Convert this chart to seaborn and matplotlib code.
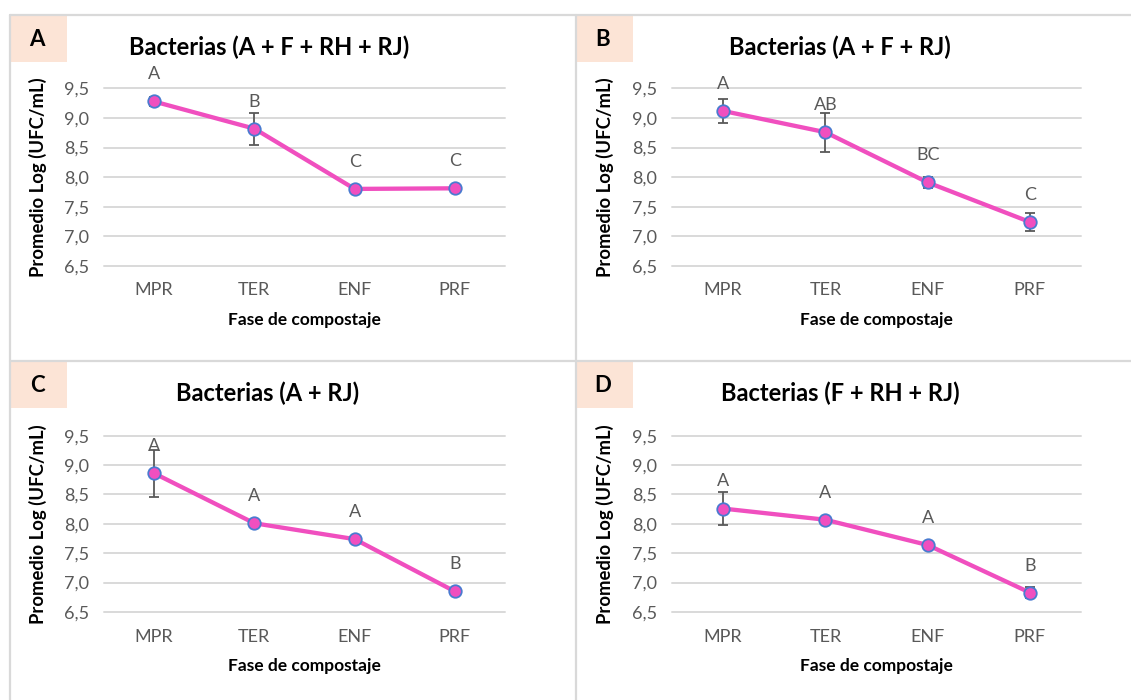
import numpy as np
import pandas as pd
import matplotlib.pyplot as plt
import seaborn as sns
from matplotlib.lines import Line2D
from matplotlib.patches import Rectangle

# ── Data ──────────────────────────────────────────────────
fases = ["MPR", "TER", "ENF", "PRF"]

paneles = ["A", "B", "C", "D"]
titulos = [
    "Bacterias (A + F + RH + RJ)",
    "Bacterias (A + F + RJ)",
    "Bacterias (A + RJ)",
    "Bacterias (F + RH + RJ)",
]

medias_A = [9.28, 8.82, 7.80, 7.81]
medias_B = [9.12, 8.76, 7.91, 7.24]
medias_C = [8.86, 8.01, 7.74, 6.85]
medias_D = [8.26, 8.07, 7.64, 6.83]

error_A = [0.07, 0.27, 0.03, 0.03]
error_B = [0.20, 0.33, 0.10, 0.15]
error_C = [0.40, 0.03, 0.04, 0.03]
error_D = [0.28, 0.03, 0.03, 0.10]

letras_A = ["A", "B", "C", "C"]
letras_B = ["A", "AB", "BC", "C"]
letras_C = ["A", "A", "A", "B"]
letras_D = ["A", "A", "A", "B"]

y_ticks = [6.5, 7.0, 7.5, 8.0, 8.5, 9.0, 9.5]
y_ticklabels = ["6,5", "7,0", "7,5", "8,0", "8,5", "9,0", "9,5"]

medias = [medias_A, medias_B, medias_C, medias_D]
errores = [error_A, error_B, error_C, error_D]
letras = [letras_A, letras_B, letras_C, letras_D]

# ── Style ─────────────────────────────────────────────────
sns.set_style("white")
plt.rcParams["font.family"] = ["Lato", "DejaVu Sans"]

ROSA = "#F04FBF"
AZUL = "#4A7BD0"
GRIS = "#595959"
GRID = "#D9D9D9"
MELOCOTON = "#FCE4D6"

W, H = 1131, 700
fig = plt.figure(figsize=(W / 100, H / 100), dpi=100)


def rect(x0, x1, y0, y1):
    # pixel box -> figure fraction
    return [x0 / W, 1 - y1 / H, (x1 - x0) / W, (y1 - y0) / H]


# axes boxes (px) and panel origins
cajas = [
    (104, 505, 88.5, 265.7),
    (672, 1081, 88.5, 265.7),
    (104, 505, 435.7, 612),
    (672, 1081, 435.7, 612),
]
origenes = [(10, 15), (576, 15), (10, 361), (576, 361)]
centros_titulo = [(269, 47), (840, 47), (268, 393), (840, 393)]

# panel borders
for (xa, xb, ya, yb) in [(10, W, 15, 15), (10, W, 361, 361), (10, 10, 15, H), (576, 576, 15, H)]:
    fig.add_artist(Line2D([xa / W, xb / W], [1 - ya / H, 1 - yb / H],
                          transform=fig.transFigure, color=GRID, lw=1.6))

for k in range(4):
    x0, x1, y0, y1 = cajas[k]
    ax = fig.add_axes(rect(x0, x1, y0, y1))

    df = pd.DataFrame({"fase": fases, "valor": medias[k]})
    pos = np.arange(len(fases))

    ax.errorbar(pos, medias[k], yerr=errores[k], fmt="none", ecolor=GRIS,
                elinewidth=1.3, capsize=3.3, capthick=1.3, zorder=2, clip_on=False)
    sns.lineplot(data=df, x="fase", y="valor", ax=ax, sort=False, color=ROSA, lw=3.1,
                 marker="o", markersize=9, markerfacecolor=ROSA,
                 markeredgecolor=AZUL, markeredgewidth=1.3, zorder=3, clip_on=False)

    for i, (v, l) in enumerate(zip(medias[k], letras[k])):
        ax.annotate(l, (i, v), xytext=(0, 19.5), textcoords="offset points",
                    ha="center", va="center", fontsize=13, color=GRIS)

    ax.set_xlim(-0.5, 3.5)
    ax.set_ylim(6.5, 9.5)
    ax.set_xticks(pos)
    ax.set_xticklabels(fases)
    ax.set_yticks(y_ticks)
    ax.set_yticklabels(y_ticklabels)
    ax.tick_params(axis="both", length=0, labelsize=13, labelcolor=GRIS)
    ax.tick_params(axis="x", pad=12)
    ax.tick_params(axis="y", pad=11)
    ax.grid(axis="y", color=GRID, lw=1.4)
    for gl in ax.get_ygridlines():
        gl.set_clip_on(False)
    sns.despine(ax=ax, left=True, bottom=True)

    ax.set_xlabel("Fase de compostaje", fontsize=12.5, fontweight="bold", color="black")
    ax.set_ylabel("Promedio Log (UFC/mL)", fontsize=13.3, fontweight="bold", color="black")
    ax.xaxis.set_label_coords(0.5, -0.26)
    ax.yaxis.set_label_coords(-0.142, 0.5)

    # title
    tx, ty = centros_titulo[k]
    fig.text(tx / W, 1 - ty / H, titulos[k], ha="center", va="center",
             fontsize=17, fontweight="bold", color="black")

    # panel letter in peach box
    ox, oy = origenes[k]
    fig.add_artist(Rectangle((ox / W, 1 - (oy + 47) / H), 57 / W, 47 / H,
                             transform=fig.transFigure, color=MELOCOTON, lw=0))
    fig.text((ox + 27) / W, 1 - (oy + 25) / H, paneles[k], ha="center", va="center",
             fontsize=16, fontweight="bold", color="black")

fig.savefig("out.png", dpi=100)
